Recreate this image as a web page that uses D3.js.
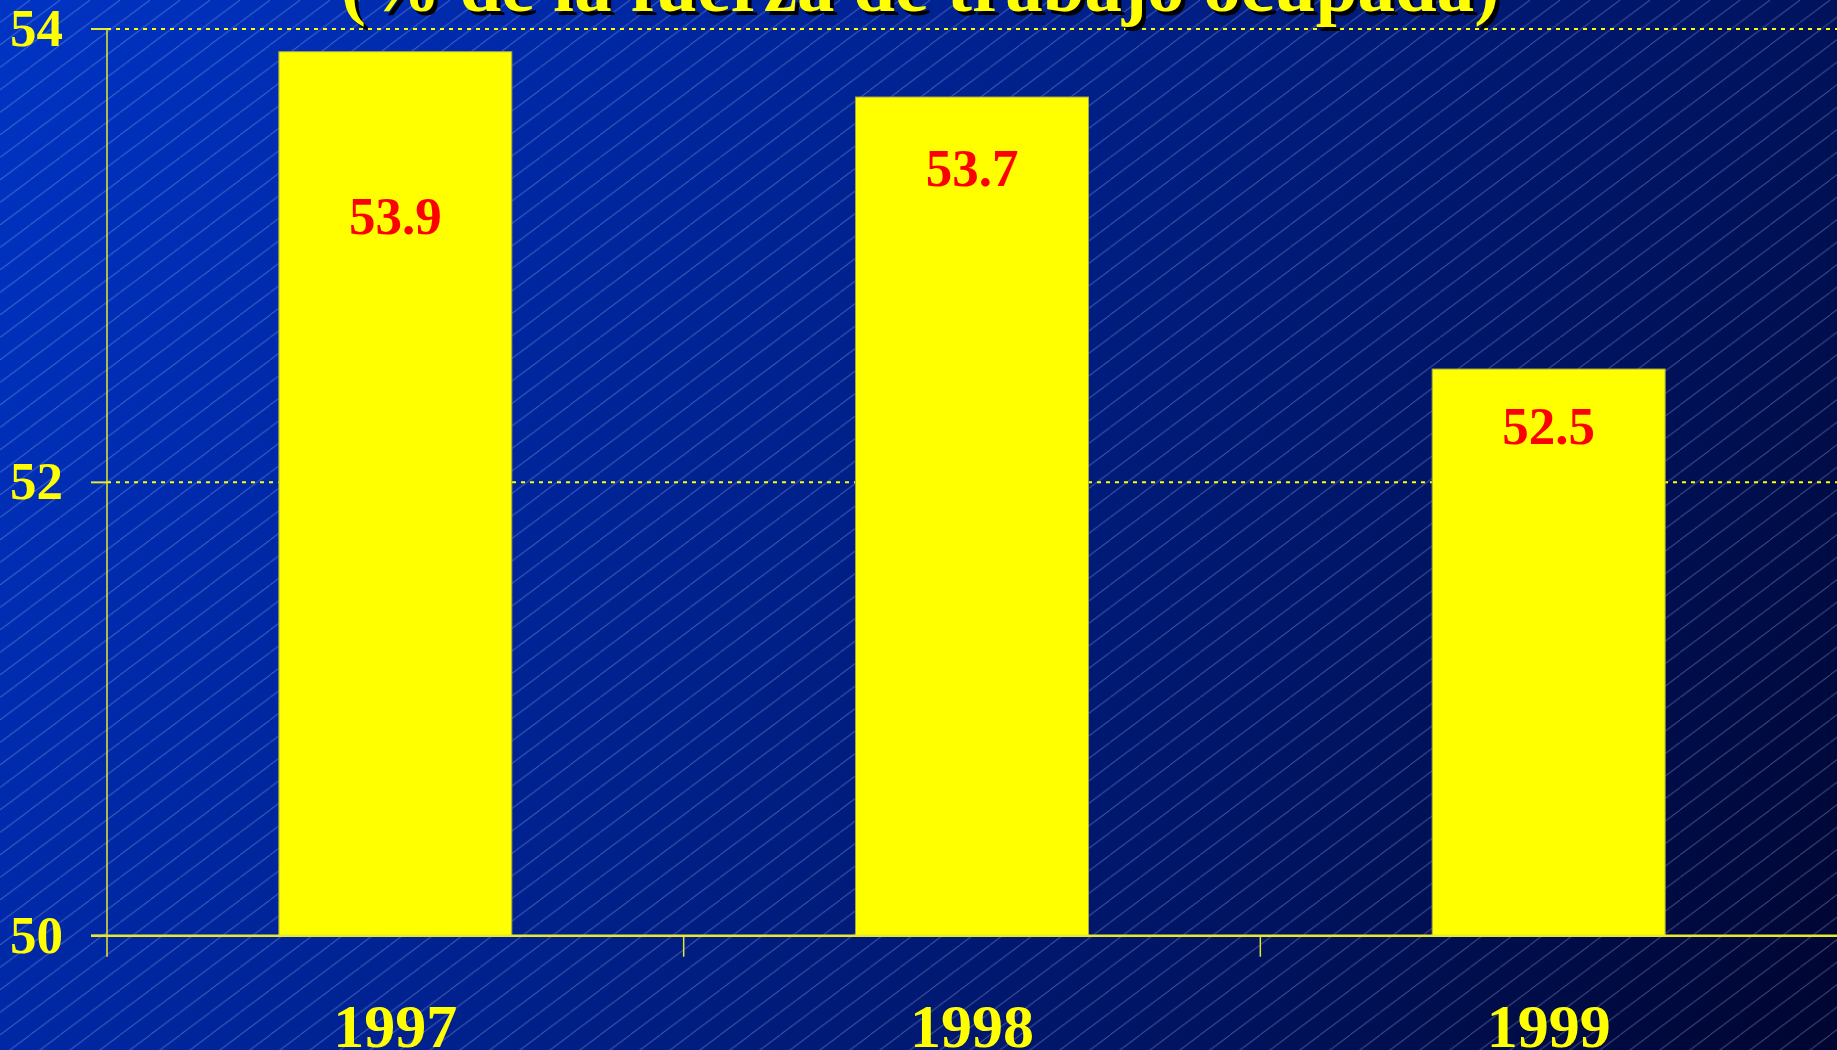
<!DOCTYPE html>
<html>
<head>
<meta charset="utf-8">
<script src="https://cdn.jsdelivr.net/npm/d3@7"></script>
<style>
  html, body { margin: 0; padding: 0; overflow: hidden; background: #000830; }
  svg { display: block; }
  text { font-family: "Liberation Serif", "Times New Roman", serif; font-weight: bold; }
</style>
</head>
<body>
<svg id="chart" width="1837" height="1050"></svg>
<script>
// ---- data ----
const categories = ["1997", "1998", "1999"];
const values = [53.9, 53.7, 52.5];
const valueLabels = ["53.9", "53.7", "52.5"];
const yTicks = [50, 52, 54];
const yTickLabels = ["50", "52", "54"];
const titleText = "(% de la fuerza de trabajo ocupada)";

// ---- layout ----
const W = 1837, H = 1050;
const svg = d3.select("#chart");
const defs = svg.append("defs");

const grad = defs.append("linearGradient").attr("id", "bg")
  .attr("gradientUnits", "userSpaceOnUse")
  .attr("x1", 0).attr("y1", 0).attr("x2", W).attr("y2", H);
[[0, "#0034c4"], [0.2, "#002aab"], [0.45, "#00208a"], [0.7, "#001566"], [0.85, "#000d4a"], [1, "#000530"]]
  .forEach(([o, c]) => grad.append("stop").attr("offset", o).attr("stop-color", c));

const pat = defs.append("pattern").attr("id", "hatch")
  .attr("patternUnits", "userSpaceOnUse").attr("width", 30).attr("height", 22.5);
pat.append("line").attr("x1", -1).attr("y1", 23.25).attr("x2", 31).attr("y2", -0.75)
  .attr("stroke", "rgba(200,210,255,0.3)").attr("stroke-width", 1);

svg.append("rect").attr("width", W).attr("height", H).attr("fill", "url(#bg)");
svg.append("rect").attr("width", W).attr("height", H).attr("fill", "url(#hatch)");

const x0 = 107, x1 = W;
const y = d3.scaleLinear().domain([50, 54]).range([935.7, 29]);
const x = d3.scaleBand().domain(categories).range([x0, x1])
  .paddingInner(0.596).paddingOuter(0.298);

const yellow = "#ffff00";

// gridlines (dashed)
svg.append("g").selectAll("line").data(yTicks.filter(t => t !== 50)).join("line")
  .attr("x1", x0).attr("x2", x1)
  .attr("y1", d => y(d)).attr("y2", d => y(d))
  .attr("stroke", yellow).attr("stroke-width", 2).attr("stroke-dasharray", "4,5");

// bars
svg.append("g").selectAll("rect").data(categories).join("rect")
  .attr("x", d => x(d)).attr("width", x.bandwidth())
  .attr("y", (d, i) => y(values[i]))
  .attr("height", (d, i) => y(50) - y(values[i]))
  .attr("fill", yellow).attr("stroke", "#a4a44a").attr("stroke-width", 1);

// value labels
const labelOffset = [182, 89, 75];
svg.append("g").selectAll("text").data(categories).join("text")
  .attr("x", d => x(d) + x.bandwidth() / 2)
  .attr("y", (d, i) => y(values[i]) + labelOffset[i])
  .attr("text-anchor", "middle").attr("font-size", 53).attr("fill", "#ff0000")
  .text((d, i) => valueLabels[i]);

// y axis
svg.append("line").attr("x1", x0).attr("x2", x0).attr("y1", y(54)).attr("y2", y(50) + 21)
  .attr("stroke", "#e8e830").attr("stroke-width", 1.5);
svg.append("g").selectAll("line").data(yTicks).join("line")
  .attr("x1", x0 - 16).attr("x2", x0).attr("y1", d => y(d)).attr("y2", d => y(d))
  .attr("stroke", "#e8e830").attr("stroke-width", 2);
svg.append("g").selectAll("text").data(yTicks).join("text")
  .attr("x", 63).attr("y", d => y(d) + 17)
  .attr("text-anchor", "end").attr("font-size", 53).attr("fill", yellow)
  .text((d, i) => yTickLabels[i]);

// x axis
svg.append("line").attr("x1", x0 - 16).attr("x2", x1).attr("y1", y(50)).attr("y2", y(50))
  .attr("stroke", "#e8e830").attr("stroke-width", 2.5);
const step = x.step();
svg.append("g").selectAll("line").data(categories.slice(1)).join("line")
  .attr("x1", d => x(d) - step * x.paddingInner() / 2)
  .attr("x2", d => x(d) - step * x.paddingInner() / 2)
  .attr("y1", y(50)).attr("y2", y(50) + 21)
  .attr("stroke", "#e8e830").attr("stroke-width", 1.5);
svg.append("g").selectAll("text").data(categories).join("text")
  .attr("x", d => x(d) + x.bandwidth() / 2).attr("y", 1047)
  .attr("text-anchor", "middle").attr("font-size", 62).attr("fill", yellow)
  .text(d => d);

// title (partially cut off at top, as in the reference)
const tg = svg.append("g");
tg.append("text").attr("x", 924).attr("y", 15).attr("text-anchor", "middle")
  .attr("font-size", 75).attr("fill", "#000000").text(titleText);
tg.append("text").attr("x", 920).attr("y", 11).attr("text-anchor", "middle")
  .attr("font-size", 75).attr("fill", yellow).text(titleText);
</script>
</body>
</html>
